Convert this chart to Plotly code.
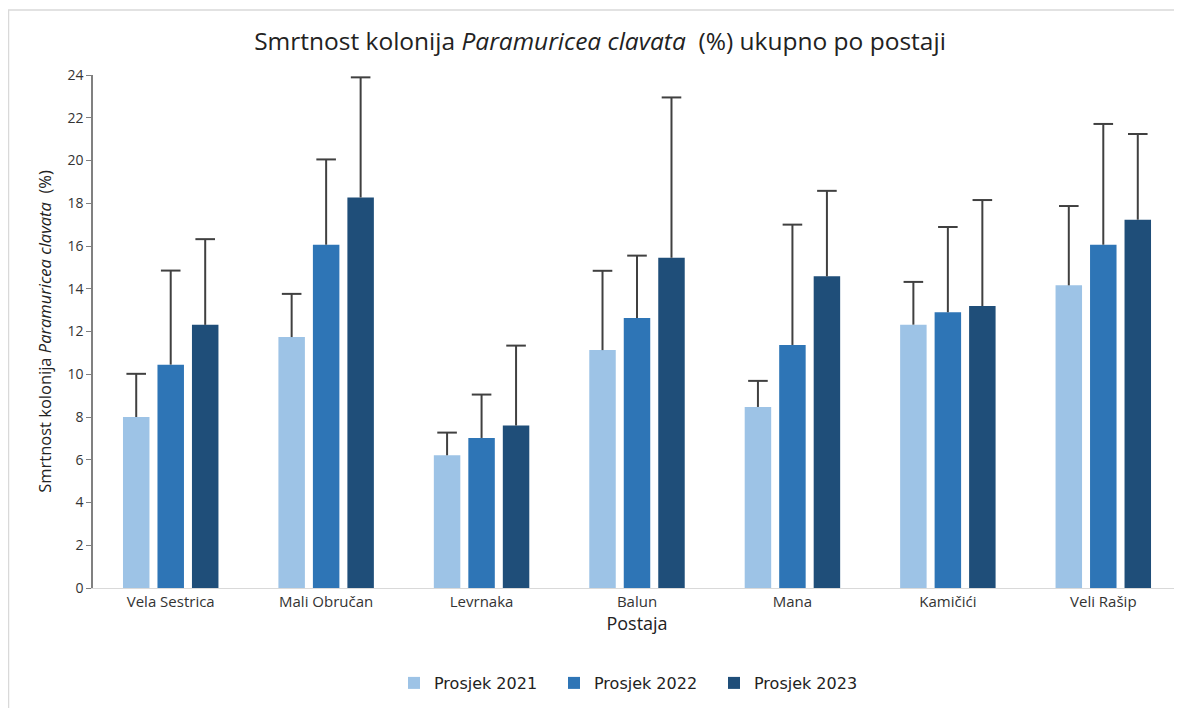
import plotly.graph_objects as go

stations = ["Vela Sestrica", "Mali Obručan", "Levrnaka", "Balun", "Mana", "Kamičići", "Veli Rašip"]
series_names = ["Prosjek 2021", "Prosjek 2022", "Prosjek 2023"]
mean_2021 = [8.0, 11.74, 6.21, 11.13, 8.47, 12.32, 14.16]
mean_2022 = [10.45, 16.06, 7.02, 12.63, 11.37, 12.9, 16.06]
mean_2023 = [12.31, 18.27, 7.6, 15.45, 14.58, 13.19, 17.23]
err_2021 = [2.02, 2.02, 1.06, 3.71, 1.22, 2.0, 3.71]
err_2022 = [4.4, 3.99, 2.03, 2.92, 5.63, 3.99, 5.65]
err_2023 = [4.01, 5.62, 3.74, 7.5, 4.0, 4.96, 4.01]
colors = ["#9DC3E6", "#2E75B6", "#1F4E79"]
y_ticks = [0, 2, 4, 6, 8, 10, 12, 14, 16, 18, 20, 22, 24]

FONT = "Open Sans"
W, H = 1174, 700
L, R, T, B = 85, 1, 67, 120
PW = W - L - R
PH = H - T - B

slot = 0.2219
bar_w = 0.1704
offsets = [-slot, 0.0, slot]
cat_x = list(range(len(stations)))

fig = go.Figure()
for name, vals, errs, col, off in zip(series_names, [mean_2021, mean_2022, mean_2023],
                                      [err_2021, err_2022, err_2023], colors, offsets):
    xs = [c + off for c in cat_x]
    fig.add_trace(go.Bar(
        x=xs, y=vals, name=name, width=bar_w,
        marker=dict(color=col, line=dict(width=0)),
    ))
    # error bar stems (upper only)
    lx, ly = [], []
    for x, v, e in zip(xs, vals, errs):
        lx += [x, x, None]
        ly += [v, v + e, None]
    fig.add_trace(go.Scatter(x=lx, y=ly, mode="lines", line=dict(color="#404040", width=2),
                             showlegend=False, hoverinfo="skip"))
    fig.add_trace(go.Scatter(x=xs, y=[v + e for v, e in zip(vals, errs)], mode="markers",
                             marker=dict(symbol="line-ew", size=14,
                                         line=dict(color="#404040", width=2)),
                             showlegend=False, hoverinfo="skip"))

fig.update_layout(
    width=W, height=H,
    paper_bgcolor="white", plot_bgcolor="white",
    margin=dict(l=L, r=R, t=T, b=B),
    title=dict(text="Smrtnost kolonija <i>Paramuricea clavata</i>  (%) ukupno po postaji",
               x=592 / W, xref="container", xanchor="center",
               y=1 - 33 / H, yref="container", yanchor="middle",
               font=dict(family=FONT, size=24.5, color="#222")),
    font=dict(family=FONT, color="#333"),
    legend=dict(orientation="h", x=(634 - 8 - L) / PW, xanchor="center",
                y=(PH - (675 - T)) / PH, yanchor="middle",
                font=dict(family="DejaVu Sans", size=16, color="#222"),
                itemwidth=30, entrywidth=115, entrywidthmode="pixels", traceorder="normal"),
    showlegend=True,
)
fig.update_xaxes(
    range=[-0.5, len(stations) - 0.5],
    tickvals=cat_x, ticktext=stations,
    showline=True, linecolor="#d9d9d9", linewidth=1, ticks="", showgrid=False, zeroline=False,
    tickfont=dict(family=FONT, size=15, color="#333"),
    title=dict(text="Postaja", font=dict(family=FONT, size=18, color="#222"), standoff=6),
)
fig.update_yaxes(
    range=[0, 24], tickvals=y_ticks, showgrid=False, zeroline=False,
    showline=True, linecolor="#808080", linewidth=1.5,
    ticks="outside", ticklen=5, tickcolor="#808080",
    tickfont=dict(family=FONT, size=14, color="#333"),
    title=dict(text="Smrtnost kolonija <i>Paramuricea clavata</i>  (%)",
               font=dict(family=FONT, size=16.5, color="#222"), standoff=12),
)
fig.add_shape(type="rect", xref="paper", yref="paper",
              x0=(0.5 - L) / PW, x1=(W + 20 - L) / PW,
              y0=-(B + 20) / PH, y1=(PH + T - 2) / PH,
              line=dict(color="#d9d9d9", width=1.5), fillcolor="rgba(0,0,0,0)", layer="below")

fig.write_html("out.html")
